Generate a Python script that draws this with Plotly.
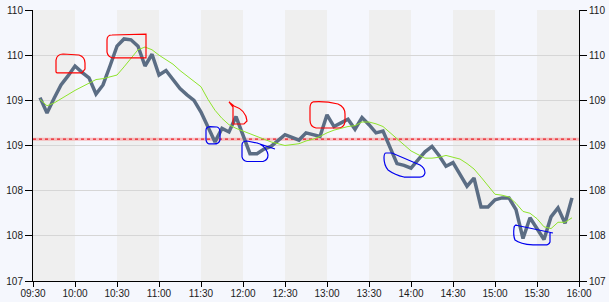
import plotly.graph_objects as go

# ---------------- data ----------------
start_minute = 9 * 60 + 30          # 09:30
step = 5                            # minutes between samples
price = [109.03, 108.86, 109.02, 109.17, 109.27, 109.38, 109.31, 109.25, 109.07, 109.17,
         109.38, 109.60, 109.68, 109.67, 109.60, 109.38, 109.51, 109.28, 109.33, 109.23,
         109.13, 109.06, 109.00, 108.87, 108.71, 108.54, 108.69, 108.65, 108.82, 108.62,
         108.41, 108.41, 108.46, 108.49, 108.55, 108.62, 108.59, 108.56, 108.64, 108.62,
         108.60, 108.84, 108.71, 108.75, 108.79, 108.68, 108.81, 108.73, 108.64, 108.66,
         108.49, 108.30, 108.28, 108.25, 108.34, 108.43, 108.49, 108.39, 108.27, 108.31,
         108.18, 108.05, 108.14, 107.82, 107.82, 107.90, 107.92, 107.92, 107.79, 107.47,
         107.70, 107.58, 107.46, 107.71, 107.81, 107.64, 107.92]
avg = [109.01, 108.94, 108.97, 109.02, 109.06, 109.11, 109.15, 109.19, 109.23, 109.24,
       109.26, 109.28, 109.37, 109.47, 109.56, 109.59, 109.56, 109.50, 109.45, 109.40,
       109.33, 109.27, 109.21, 109.15, 109.01, 108.89, 108.80, 108.73, 108.69, 108.66,
       108.63, 108.60, 108.57, 108.54, 108.52, 108.50, 108.51, 108.52, 108.55, 108.57,
       108.60, 108.64, 108.67, 108.69, 108.71, 108.72, 108.76, 108.76, 108.74, 108.71,
       108.64, 108.57, 108.51, 108.44, 108.40, 108.36, 108.36, 108.37, 108.39, 108.37,
       108.35, 108.30, 108.24, 108.15, 108.05, 107.96, 107.95, 107.93, 107.86, 107.77,
       107.75, 107.69, 107.60, 107.58, 107.65, 107.65, 107.70]
ref_level = 108.57

x_tick_labels = ["09:30", "10:00", "10:30", "11:00", "11:30", "12:00", "12:30",
                 "13:00", "13:30", "14:00", "14:30", "15:00", "15:30", "16:00"]
y_tick_values = [107, 107.5, 108, 108.5, 109, 109.5, 110]
y_tick_labels = ["107", "108", "108", "109", "109", "110", "110"]

# minutes after 09:30
x_vals = [step * (i + 1) for i in range(len(price))]
x_ticks = [30 * i for i in range(len(x_tick_labels))]
x_max = x_ticks[-1]

# ---------------- figure ----------------
W, H = 609, 302
ML, MR, MT, MB = 33, 30, 10, 21
Y0, Y1 = 107, 110

def px(pxx, pyy):
    """convert reference pixel position to data coords (for hand-drawn marks)"""
    xx = (pxx - ML) / (W - ML - MR) * x_max
    yy = Y1 - (pyy - MT) / (H - MT - MB) * (Y1 - Y0)
    return xx, yy

def path(cmds):
    out = []
    for c in cmds:
        if isinstance(c, str):
            out.append(c)
        else:
            xx, yy = px(*c)
            out.append(f"{xx:.3f},{yy:.3f}")
    return " ".join(out)

fig = go.Figure()

shapes = []
# alternating half-hour bands
for i in range(0, len(x_ticks) - 1, 2):
    shapes.append(dict(type="rect", xref="x", yref="paper", x0=x_ticks[i], x1=x_ticks[i + 1],
                       y0=0, y1=1, fillcolor="#efefef", line=dict(width=0), layer="below"))

fig.add_trace(go.Scatter(x=[0, x_max], y=[ref_level, ref_level], mode="lines",
                         line=dict(color="rgba(255,80,80,0.35)", width=3),
                         hoverinfo="skip", showlegend=False))
fig.add_trace(go.Scatter(x=[0, x_max], y=[ref_level, ref_level], mode="lines",
                         line=dict(color="#e8202a", width=1.2, dash="dot"),
                         hoverinfo="skip", showlegend=False))
fig.add_trace(go.Scatter(x=x_vals, y=price, mode="lines",
                         line=dict(color="#5b6d84", width=3.5), showlegend=False))
fig.add_trace(go.Scatter(x=x_vals, y=avg, mode="lines",
                         line=dict(color="#8fe42c", width=1), showlegend=False))
# invisible trace for the right-hand axis
fig.add_trace(go.Scatter(x=[0], y=[Y0], yaxis="y2", mode="markers",
                         marker=dict(opacity=0), hoverinfo="skip", showlegend=False))

# hand-drawn highlights
red_paths = [
    ["M", (56, 72), "L", (56, 60), "Q", (57, 54), (63, 54), "L", (79, 55), "Q", (85, 57), (85, 63),
     "L", (85, 69), "L", (82, 73), "L", (57, 73), "Z"],
    ["M", (107, 52), "L", (107, 40), "Q", (107, 35), (112, 35), "L", (146, 34), "L", (146, 58),
     "L", (113, 58), "Q", (108, 57), (107, 52), "Z"],
    ["M", (229, 102), "L", (234, 106), "Q", (246, 110), (247, 121), "L", (244, 124), "L", (233, 124),
     "L", (233, 107), "L", (229, 102)],
    ["M", (313, 102), "Q", (325, 101), (338, 104), "Q", (345, 107), (345, 114), "L", (345, 122),
     "Q", (344, 128), (338, 128), "L", (316, 128), "Q", (310, 127), (310, 120), "L", (310, 108),
     "Q", (310, 103), (313, 102), "Z"],
]
blue_paths = [
    ["M", (206, 130), "Q", (206, 127), (210, 126.5), "L", (217, 127), "Q", (220, 128), (220, 132),
     "L", (220, 140), "Q", (219, 144), (214, 144), "L", (209, 144), "Q", (206, 143), (206, 139), "Z"],
    ["M", (275, 149), "L", (257, 143), "L", (247, 141), "Q", (242, 141), (242, 145), "L", (242, 157),
     "Q", (243, 161), (247, 161.5), "L", (263, 161.5), "Q", (268, 160), (268, 155),
     "Q", (267, 148), (260, 144), "L", (257, 143)],
    ["M", (386, 153), "L", (392, 153), "L", (420, 165), "Q", (425, 168), (425, 173),
     "Q", (424, 177), (420, 177), "L", (404, 177), "Q", (395, 175), (388, 170),
     "Q", (384, 165), (384, 158), "Q", (384, 153), (386, 153), "Z"],
    ["M", (515, 225), "L", (553, 233), "M", (550, 232), "L", (550, 242), "Q", (549, 245), (545, 245),
     "L", (533, 245), "Q", (520, 244), (515, 240), "Q", (513, 235), (514, 228),
     "Q", (514, 225), (517, 225)],
]
for p in red_paths:
    shapes.append(dict(type="path", xref="x", yref="y", path=path(p),
                       line=dict(color="#ff0000", width=1.2), layer="above"))
for p in blue_paths:
    shapes.append(dict(type="path", xref="x", yref="y", path=path(p),
                       line=dict(color="#0000ee", width=1.2), layer="above"))

tick_font = dict(family="Liberation Sans, Arial, sans-serif", size=10, color="#1a1a1a")
common_y = dict(range=[Y0, Y1], tickvals=y_tick_values, ticktext=y_tick_labels,
                ticks="outside", ticklen=7, tickcolor="black", tickwidth=1,
                showline=True, linecolor="black", linewidth=1, zeroline=False,
                tickfont=tick_font, fixedrange=True, automargin=False)

fig.update_layout(
    width=W, height=H,
    margin=dict(l=ML, r=MR, t=MT, b=MB, pad=0, autoexpand=False),
    paper_bgcolor="#f5f7fd", plot_bgcolor="#f5f7fd",
    showlegend=False,
    shapes=shapes,
    xaxis=dict(range=[0, x_max], tickvals=x_ticks, ticktext=x_tick_labels,
               ticks="outside", ticklen=5, tickcolor="black", showline=True,
               linecolor="black", linewidth=1, showgrid=False, zeroline=False,
               tickfont=tick_font, automargin=False, ticklabelstandoff=-2),
    yaxis=dict(side="left", showgrid=True, gridcolor="#d6d6d6", gridwidth=1, **common_y),
    yaxis2=dict(side="right", overlaying="y", showgrid=False, **common_y),
)

fig.write_html("out.html")
